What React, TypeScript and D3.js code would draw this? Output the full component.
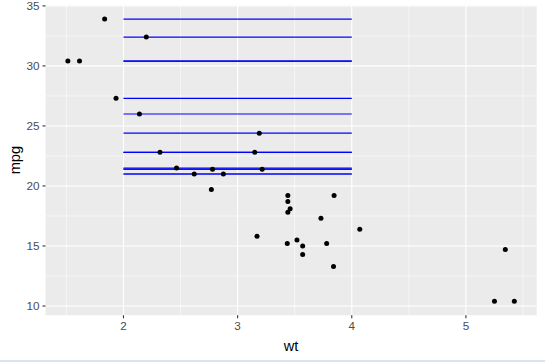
import * as d3 from "d3";

// mtcars: weight (1000 lbs) and miles per gallon
const wt = [2.62, 2.875, 2.32, 3.215, 3.44, 3.46, 3.57, 3.19, 3.15, 3.44, 3.44, 4.07, 3.73, 3.78, 5.25, 5.424,
  5.345, 2.2, 1.615, 1.835, 2.465, 3.52, 3.435, 3.84, 3.845, 1.935, 2.14, 1.513, 3.17, 2.77, 3.57, 2.78];
const mpg = [21.0, 21.0, 22.8, 21.4, 18.7, 18.1, 14.3, 24.4, 22.8, 19.2, 17.8, 16.4, 17.3, 15.2, 10.4, 10.4,
  14.7, 32.4, 30.4, 33.9, 21.5, 15.5, 15.2, 13.3, 19.2, 27.3, 26.0, 30.4, 15.8, 19.7, 15.0, 21.4];

// segments drawn for cars with mpg > 20, from wt 2 to wt 4
const segFrom = 2;
const segTo = 4;
const segMpg = mpg.filter((m) => m > 20);

const xTicks = [2, 3, 4, 5];
const xMinor = [1.5, 2.5, 3.5, 4.5, 5.5];
const yTicks = [10, 15, 20, 25, 30, 35];
const yMinor = [12.5, 17.5, 22.5, 27.5, 32.5];

const W = 545, H = 362;
const panel = { left: 45.5, right: 536.7, top: 5, bottom: 315.3 };

export default function App() {
  const x = d3.scaleLinear().domain([1.317, 5.62]).range([panel.left, panel.right]);
  const y = d3.scaleLinear().domain([9.225, 35.075]).range([panel.bottom, panel.top]);
  const font = "'Liberation Sans', Arial, sans-serif";

  return (
    <svg width={W} height={H} style={{ position: "absolute", left: 0, top: 0, background: "#fff" }}>
      <rect x={panel.left} y={panel.top} width={panel.right - panel.left} height={panel.bottom - panel.top} fill="#EBEBEB" />
      {xMinor.map((t) => (
        <line key={"xm" + t} x1={x(t)} x2={x(t)} y1={panel.top} y2={panel.bottom} stroke="#fff" strokeWidth={0.55} />
      ))}
      {yMinor.map((t) => (
        <line key={"ym" + t} y1={y(t)} y2={y(t)} x1={panel.left} x2={panel.right} stroke="#fff" strokeWidth={0.55} />
      ))}
      {xTicks.map((t) => (
        <line key={"xg" + t} x1={x(t)} x2={x(t)} y1={panel.top} y2={panel.bottom} stroke="#fff" strokeWidth={1.1} />
      ))}
      {yTicks.map((t) => (
        <line key={"yg" + t} y1={y(t)} y2={y(t)} x1={panel.left} x2={panel.right} stroke="#fff" strokeWidth={1.1} />
      ))}

      {segMpg.map((m, i) => (
        <line key={"s" + i} x1={x(segFrom)} x2={x(segTo)} y1={y(m)} y2={y(m)} stroke="blue" strokeWidth={1.1} />
      ))}

      {wt.map((w, i) => (
        <circle key={"p" + i} cx={x(w)} cy={y(mpg[i])} r={2.5} fill="#000" />
      ))}

      {/* axes */}
      {xTicks.map((t) => (
        <g key={"xt" + t}>
          <line x1={x(t)} x2={x(t)} y1={panel.bottom} y2={panel.bottom + 3} stroke="#333" strokeWidth={1.1} />
          <text x={x(t)} y={panel.bottom + 14.5} textAnchor="middle" fontFamily={font} fontSize={11.7} fill="#4D4D4D">{t}</text>
        </g>
      ))}
      {yTicks.map((t) => (
        <g key={"yt" + t}>
          <line x1={panel.left - 3} x2={panel.left} y1={y(t)} y2={y(t)} stroke="#333" strokeWidth={1.1} />
          <text x={panel.left - 6} y={y(t)} dy="0.36em" textAnchor="end" fontFamily={font} fontSize={11.7} fill="#4D4D4D">{t}</text>
        </g>
      ))}
      <text x={(panel.left + panel.right) / 2} y={351} textAnchor="middle" fontFamily={font} fontSize={14.6} fill="#000">wt</text>
      <text transform={`translate(20,${(panel.top + panel.bottom) / 2}) rotate(-90)`} textAnchor="middle" fontFamily={font} fontSize={14.6} fill="#000">mpg</text>
      <rect x={0} y={360} width={W} height={2} fill="#DDE3EA" />
    </svg>
  );
}
